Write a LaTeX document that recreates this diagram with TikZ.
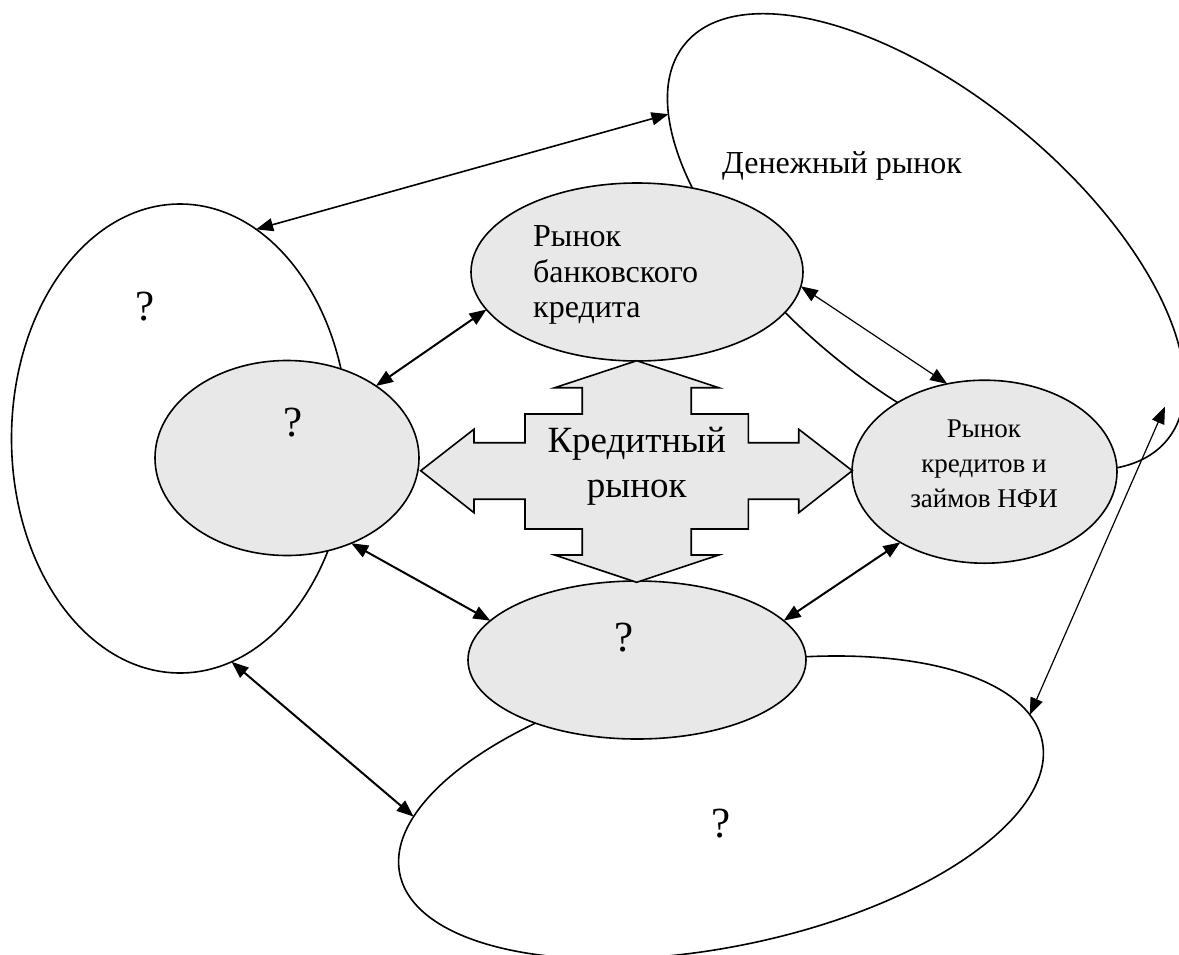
\documentclass[tikz,border=0pt]{standalone}
\usepackage{fontspec}
\setmainfont{Liberation Serif}
\usetikzlibrary{shapes.geometric,arrows.meta}
\definecolor{greyfill}{RGB}{232,232,232}
\begin{document}
\begin{tikzpicture}[x=1pt,y=-1pt,
  bigell/.style={draw, ellipse, line width=1.6pt, inner sep=0pt, outer sep=0pt},
  greyell/.style={draw, ellipse, fill=greyfill, line width=1.6pt, inner sep=0pt, outer sep=0pt},
  link/.style={{Triangle[length=17pt,width=13pt]}-{Triangle[length=17pt,width=13pt]}, line width=2pt},
  midlink/.style={link, line width=1.6pt},
  thinlink/.style={link, line width=1.2pt},
  crossshape/.style={draw, fill=greyfill, line width=1.6pt, line join=miter},
  lbl/.style={inner sep=0pt, font=\fontsize{32}{35.5}\selectfont},
  qm/.style={inner sep=0pt, font=\fontsize{43}{50}\selectfont}]
\useasboundingbox (0,0) rectangle (1179,954);
\fill[white] (0,0) rectangle (1179,954);
\clip (0,0) rectangle (1179,954);

% large white ellipses
\node[bigell, minimum width=337pt, minimum height=469pt] (leftbig) at (180,438.5) {};
\node[bigell, rotate=-39.4, minimum width=624pt, minimum height=294pt] (money) at (926,242) {};
\node[bigell, rotate=11.7, minimum width=656pt, minimum height=278pt] (bottombig) at (721,807.5) {};

% grey ellipses
\node[greyell, minimum width=264pt, minimum height=195pt] (leftg) at (287,458) {};
\node[greyell, minimum width=332pt, minimum height=178pt] (topg) at (637,272) {};
\node[greyell, minimum width=265pt, minimum height=183pt] (rightg) at (984.5,471.7) {};
\node[greyell, minimum width=338pt, minimum height=158pt] (botg) at (637,660) {};

% four-way arrow
\draw[crossshape, shift={(636.7,470.7)}]
  (0,-110) -- (82,-83) -- (54.5,-83) -- (54.5,-56.7) -- (111.7,-56.7) -- (111.7,-28)
  -- (162,-28) -- (162,-41.5) -- (215.6,0) -- (162,42) -- (162,28.5) -- (111.7,28.5)
  -- (111.7,58.3) -- (54.5,58.3) -- (54.5,84.3) -- (82,84.3) -- (0,111.6)
  -- (-82,84.3) -- (-54.5,84.3) -- (-54.5,58.3) -- (-111.7,58.3) -- (-111.7,28.5)
  -- (-162.7,28.5) -- (-162.7,42) -- (-216,0) -- (-162.7,-41.5) -- (-162.7,-28)
  -- (-111.7,-28) -- (-111.7,-56.7) -- (-54.5,-56.7) -- (-54.5,-83) -- (-82,-83) -- cycle;

% texts
\node[lbl, anchor=base west] (moneytxt) at (722,173) {Денежный рынок};
\node[lbl, anchor=north west, align=left] (toptxt) at (533,225.5) {Рынок\\банковского\\кредита};
\node[inner sep=0pt, anchor=north, align=center, font=\fontsize{27}{35}\selectfont] (righttxt) at (984,420) {Рынок\\кредитов и\\займов НФИ};
\node[inner sep=0pt, anchor=north, align=center, font=\fontsize{37}{45}\selectfont] (credittxt) at (636.7,427) {Кредитный\\рынок};
\node[qm, anchor=base] (q1) at (145,320.7) {?};
\node[qm, anchor=base] (q2) at (293,436.7) {?};
\node[qm, anchor=base] (q3) at (624,651.8) {?};
\node[qm, anchor=base] (q4) at (721,837) {?};

% connectors
\coordinate (m7) at (1165,406.7);
\draw[midlink] (leftbig.70.2) -- (money.193.7);
\draw[link] (topg.194.9) -- (leftg.39.8);
\draw[thinlink] (topg.-5.9) -- (rightg.113.1);
\draw[link] (leftg.-53.6) -- (botg.165.2);
\draw[link] (rightg.220.6) -- (botg.15.3);
\draw[link] (leftbig.-77.5) -- (bottombig.170.1);
\draw[thinlink] (bottombig.5.7) -- (m7);
\end{tikzpicture}
\end{document}
